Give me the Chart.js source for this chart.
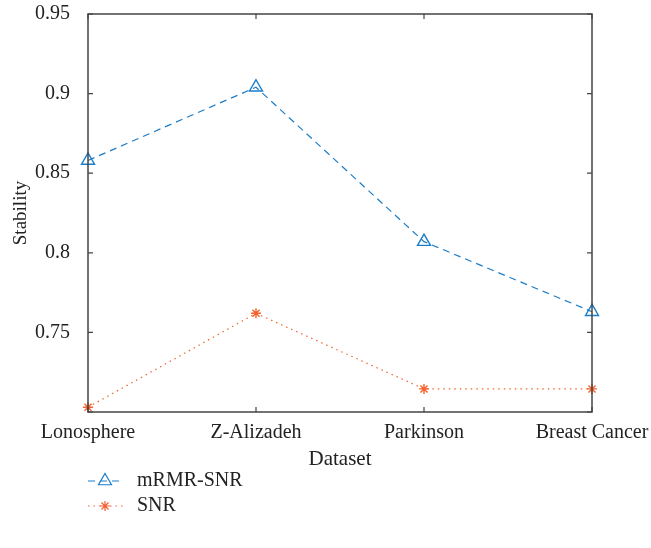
<!DOCTYPE html>
<html>
<head>
<meta charset="utf-8">
<script src="https://cdn.jsdelivr.net/npm/chart.js@4/dist/chart.umd.min.js"></script>
<style>
  body { margin: 0; background: #fff; }
  #wrap { width: 651px; height: 548px; }
</style>
</head>
<body>
<div id="wrap"><canvas id="chart" width="651" height="548"></canvas></div>
<script>
var datasetNames = ['Lonosphere', 'Z-Alizadeh', 'Parkinson', 'Breast Cancer'];
var mrmrSnr = [0.858, 0.904, 0.807, 0.763];
var snr = [0.703, 0.762, 0.7145, 0.7145];
var yTicks = [0.7, 0.75, 0.8, 0.85, 0.9, 0.95];

var blue = '#1a7dc9';
var orange = '#f2622e';
var serif = '"Liberation Serif", "DejaVu Serif", serif';

// MATLAB style box with inward ticks + vertical legend under the plot
var boxPlugin = {
    id: 'boxPlugin',
    afterDraw: function(chart) {
        var ctx = chart.ctx;
        var a = chart.chartArea;
        var x = chart.scales.x, y = chart.scales.y;
        ctx.save();
        ctx.strokeStyle = '#444';
        ctx.lineWidth = 1.5;
        ctx.strokeRect(a.left, a.top, a.right - a.left, a.bottom - a.top);
        ctx.lineWidth = 1.2;
        ctx.beginPath();
        yTicks.forEach(function(v) {
            var py = y.getPixelForValue(v);
            ctx.moveTo(a.left, py); ctx.lineTo(a.left + 5, py);
            ctx.moveTo(a.right, py); ctx.lineTo(a.right - 5, py);
        });
        datasetNames.forEach(function(n, i) {
            var px = x.getPixelForValue(i);
            ctx.moveTo(px, a.bottom); ctx.lineTo(px, a.bottom - 5);
            ctx.moveTo(px, a.top); ctx.lineTo(px, a.top + 5);
        });
        ctx.stroke();

        // legend
        chart.data.datasets.forEach(function(ds, i) {
            var ly = 481 + i * 25;
            ctx.strokeStyle = ds.borderColor;
            ctx.lineWidth = 1.2;
            ctx.setLineDash(ds.borderDash);
            ctx.beginPath();
            ctx.moveTo(88, ly); ctx.lineTo(124, ly);
            ctx.stroke();
            ctx.setLineDash([]);
            ctx.fillStyle = ds.pointBackgroundColor;
            Chart.helpers.drawPoint(ctx, {
                pointStyle: ds.pointStyle,
                radius: ds.pointRadius,
                borderWidth: ds.pointBorderWidth,
                rotation: 0
            }, 105, ly);
            ctx.fillStyle = '#222';
            ctx.font = '20px ' + serif;
            ctx.textBaseline = 'middle';
            ctx.textAlign = 'left';
            ctx.fillText(ds.label, 137, ly);
        });
        ctx.restore();
    }
};

var ctx = document.getElementById('chart').getContext('2d');
var chart = new Chart(ctx, {
    type: 'line',
    data: {
        labels: datasetNames,
        datasets: [{
            label: 'mRMR-SNR',
            data: mrmrSnr,
            borderColor: blue,
            backgroundColor: 'rgba(0,0,0,0)',
            borderWidth: 1.2,
            borderDash: [7, 5],
            pointStyle: 'triangle',
            pointRadius: 7.5,
            pointBorderWidth: 1.4,
            pointBorderColor: blue,
            pointBackgroundColor: 'rgba(0,0,0,0)',
            tension: 0,
            clip: false
        }, {
            label: 'SNR',
            data: snr,
            borderColor: orange,
            backgroundColor: 'rgba(0,0,0,0)',
            borderWidth: 1.2,
            borderDash: [1.5, 4],
            pointStyle: 'star',
            pointRadius: 5,
            pointBorderWidth: 1.4,
            pointBorderColor: orange,
            pointBackgroundColor: orange,
            tension: 0,
            clip: false
        }]
    },
    options: {
        responsive: false,
        animation: false,
        events: [],
        layout: { padding: { left: 10, right: 59, top: 14, bottom: 76 } },
        plugins: { legend: { display: false }, tooltip: { enabled: false } },
        scales: {
            x: {
                type: 'category',
                offset: false,
                grid: { display: false },
                border: { display: false },
                ticks: {
                    color: '#222',
                    font: { family: serif, size: 20 },
                    padding: 1,
                    maxRotation: 0,
                    autoSkip: false
                },
                title: {
                    display: true,
                    text: 'Dataset',
                    color: '#222',
                    font: { family: serif, size: 21 },
                    padding: { top: 8, bottom: 0 }
                },
                afterFit: function(s) {
                    s.height = 60;
                    s.paddingLeft = 0;
                    s.paddingRight = 0;
                }
            },
            y: {
                min: 0.7,
                max: 0.95,
                grid: { display: false },
                border: { display: false },
                afterBuildTicks: function(s) {
                    s.ticks = yTicks.map(function(v) { return { value: v }; });
                },
                ticks: {
                    color: '#222',
                    font: { family: serif, size: 20 },
                    padding: 10,
                    callback: function(v) { return v === 0.7 ? '' : String(v); }
                },
                title: {
                    display: true,
                    text: 'Stability',
                    color: '#222',
                    font: { family: serif, size: 19 },
                    padding: { top: 0, bottom: 4 }
                },
                afterFit: function(s) {
                    s.width = 78;
                    s.paddingTop = 0;
                    s.paddingBottom = 0;
                }
            }
        }
    },
    plugins: [boxPlugin]
});
</script>
</body>
</html>
